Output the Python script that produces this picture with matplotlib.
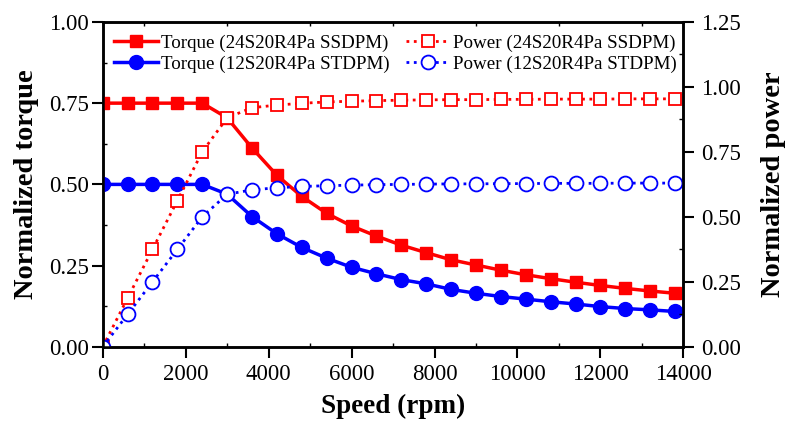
import matplotlib.pyplot as plt

plt.rcParams['font.family'] = ['Liberation Serif', 'DejaVu Serif']

speed = [0, 600, 1200, 1800, 2400, 3000, 3600, 4200, 4800, 5400, 6000, 6600, 7200,
         7800, 8400, 9000, 9600, 10200, 10800, 11400, 12000, 12600, 13200, 13800]

# 24S20R4Pa SSDPM
torque_ss = [0.75, 0.75, 0.75, 0.75, 0.75, 0.705, 0.612, 0.528, 0.463, 0.411, 0.372, 0.341,
             0.313, 0.290, 0.268, 0.252, 0.236, 0.222, 0.210, 0.199, 0.189, 0.180, 0.172, 0.165]
power_ss = [0.0, 0.1875, 0.375, 0.5625, 0.75, 0.881, 0.920, 0.930, 0.937, 0.942, 0.945, 0.947,
            0.949, 0.950, 0.951, 0.951, 0.952, 0.952, 0.953, 0.953, 0.953, 0.954, 0.954, 0.954]

# 12S20R4Pa STDPM
torque_st = [0.50, 0.50, 0.50, 0.50, 0.50, 0.470, 0.401, 0.348, 0.306, 0.273, 0.245, 0.225,
             0.207, 0.194, 0.177, 0.165, 0.155, 0.147, 0.139, 0.132, 0.124, 0.118, 0.114, 0.109]
power_st = [0.0, 0.125, 0.25, 0.375, 0.50, 0.587, 0.604, 0.612, 0.617, 0.620, 0.622, 0.624,
            0.625, 0.626, 0.627, 0.627, 0.628, 0.628, 0.629, 0.629, 0.629, 0.630, 0.630, 0.630]

fig = plt.figure(figsize=(7.9, 4.21), dpi=100)
ax = fig.add_axes([0.130, 0.176, 0.735, 0.772])
ax2 = ax.twinx()

red = '#ff0000'
blue = '#0000ff'

l1, = ax.plot(speed, torque_ss, '-s', color=red, lw=2.5, ms=9, mfc=red, mec=red,
              label='Torque (24S20R4Pa SSDPM)', zorder=3)
l2, = ax.plot(speed, torque_st, '-o', color=blue, lw=2.5, ms=10, mfc=blue, mec=blue,
              label='Torque (12S20R4Pa STDPM)', zorder=3)
l3, = ax2.plot(speed, power_ss, ':s', color=red, lw=2, ms=9, mfc='white', mec=red, mew=1.3,
               label='Power (24S20R4Pa SSDPM)')
l4, = ax2.plot(speed, power_st, ':o', color=blue, lw=2, ms=10, mfc='white', mec=blue, mew=1.3,
               label='Power (12S20R4Pa STDPM)')

ax.set_xlim(0, 14000)
ax.set_ylim(0, 1.0)
ax2.set_ylim(0, 1.25)
ax.set_xticks(range(0, 14001, 2000))
ax.set_xticks(range(1000, 14000, 2000), minor=True)
ax.set_yticks([0, 0.25, 0.5, 0.75, 1.0])
ax.set_yticks([0.125, 0.375, 0.625, 0.875], minor=True)
ax.set_yticklabels(['0.00', '0.25', '0.50', '0.75', '1.00'])
ax2.set_yticks([0, 0.25, 0.5, 0.75, 1.0, 1.25])
ax2.set_yticks([0.125, 0.375, 0.625, 0.875, 1.125], minor=True)
ax2.set_yticklabels(['0.00', '0.25', '0.50', '0.75', '1.00', '1.25'])

for a in (ax, ax2):
    a.tick_params(which='major', direction='out', length=8, width=1.5, labelsize=16.5, pad=2)
    a.tick_params(which='minor', direction='in', length=3, width=1.0)
    for s in a.spines.values():
        s.set_linewidth(1.8)
ax2.tick_params(which='major', pad=5)
ax.tick_params(axis='x', top=True, which='both')
ax.tick_params(axis='x', which='major', top=False)
ax.tick_params(axis='x', which='minor', direction='in', length=3)
ax.tick_params(axis='x', which='major', pad=4)

ax.set_xlabel('Speed (rpm)', fontsize=19.5, fontweight='bold', labelpad=7)
ax.set_ylabel('Normalized torque', fontsize=20.5, fontweight='bold', labelpad=7)
ax2.set_ylabel('Normalized power', fontsize=20.5, fontweight='bold', labelpad=14)

ax2.legend(handles=[l1, l2, l3, l4], ncol=2, loc='upper left', frameon=False,
           fontsize=13.7, bbox_to_anchor=(-0.01, 1.015), columnspacing=0.9,
           handlelength=2.3, handletextpad=0.15, labelspacing=0.2)

fig.savefig('out.png', dpi=100)
